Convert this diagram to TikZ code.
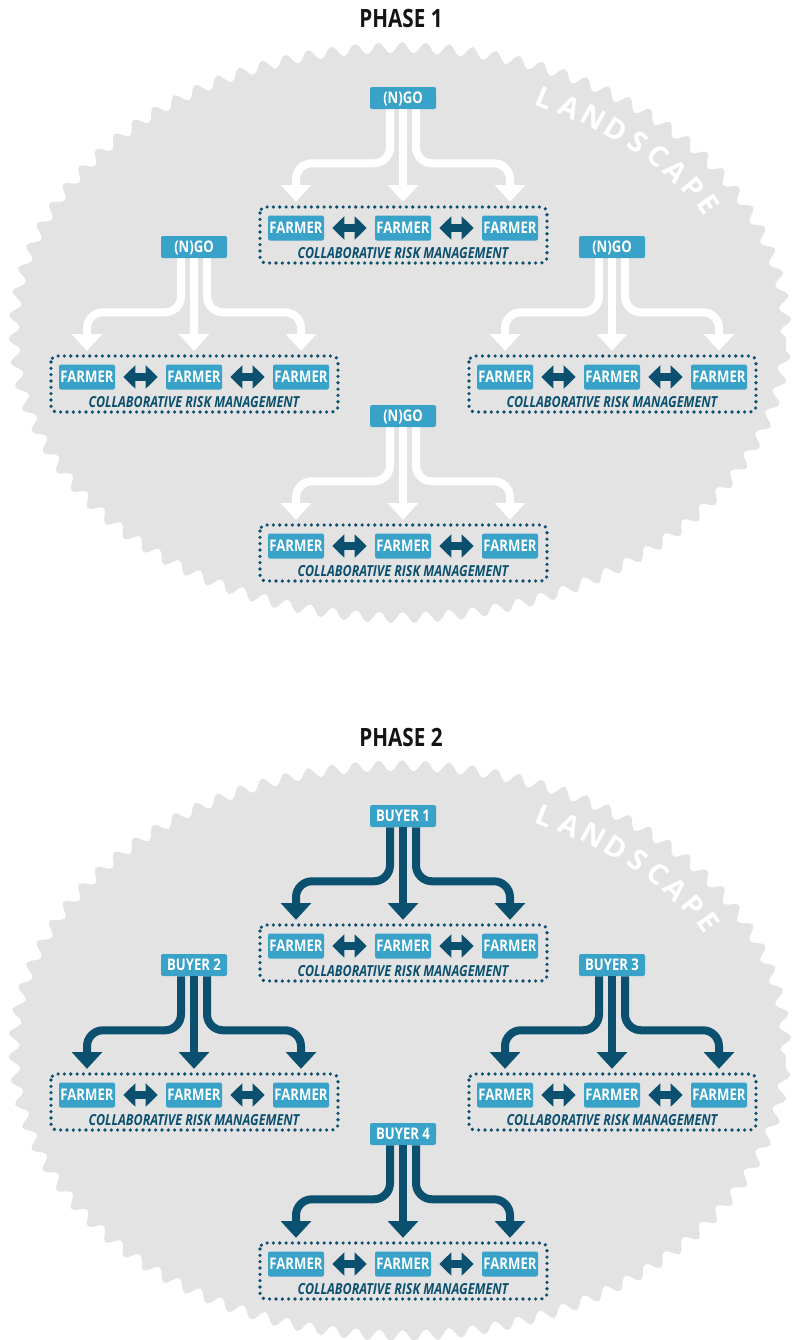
\documentclass[tikz,border=0pt]{standalone}
\usepackage{fontspec}
\newfontfamily\condfont{Open Sans}[FakeStretch=0.82]
\newfontfamily\plainfont{Open Sans}
\usetikzlibrary{arrows.meta,decorations.pathmorphing}

\definecolor{landgray}{HTML}{E3E3E3}
\definecolor{boxblue}{HTML}{38A2C9}
\definecolor{deepteal}{HTML}{0B506E}

\tikzset{
  x=0.75pt, y=-0.75pt,
  tag/.style={fill=boxblue, rounded corners=1.5pt, text=white,
    font=\condfont\bfseries\fontsize{12}{12}\selectfont,
    text height=8.6pt, text depth=0pt, inner sep=0pt},
  srcbox/.style={tag, minimum width=49.5pt, minimum height=16.5pt},
  farmbox/.style={tag, minimum width=42pt, minimum height=18.75pt},
  crmtext/.style={text=deepteal, inner sep=0pt, text height=8pt, text depth=0pt,
    font=\condfont\bfseries\itshape\fontsize{11.4}{11.4}\selectfont},
  title/.style={text=black!92, inner sep=0pt,
    font=\condfont\bfseries\fontsize{18.9}{18.9}\selectfont},
  landtext/.style={text=white, inner sep=0pt,
    font=\plainfont\bfseries\fontsize{21.5}{21.5}\selectfont},
  dotframe/.style={draw=deepteal, line width=2.7pt, line cap=round,
    dash pattern=on 0pt off 4.75pt, rounded corners=4.5pt},
  pairlink/.style={draw=deepteal, line width=6pt,
    {Triangle[width=17pt,length=9pt]}-{Triangle[width=17pt,length=9pt]}},
  flow/.style={line width=6pt, rounded corners=12pt,
    -{Triangle[width=23pt,length=12.5pt,line width=0pt]}},
  ngoflow/.style={flow, draw=white},
  buyflow/.style={flow, draw=deepteal},
  land/.style={fill=landgray, decorate,
    decoration={snake, segment length=17.55pt, amplitude=4.2pt}},
}

% one source feeding a collaborative group of three farmers
% #1 name prefix, #2 x, #3 y of the source, #4 source label, #5 flow style
\newcommand{\crmgroup}[5]{%
  \node[srcbox] (#1src) at (#2,#3) {#4};
  \node[farmbox] (#1fa) at (#2-107,#3+130) {FARMER};
  \node[farmbox] (#1fb) at (#2,#3+130) {FARMER};
  \node[farmbox] (#1fc) at (#2+107,#3+130) {FARMER};
  \node[crmtext] (#1crm) at (#2,#3+155) {COLLABORATIVE RISK MANAGEMENT};
  \draw[dotframe] ([xshift=-27pt,yshift=15.75pt]#1fa.center) rectangle
                  ([xshift=27.75pt,yshift=-26.25pt]#1fc.center);
  \draw[pairlink] ([xshift=6pt]#1fa.east) -- ([xshift=-6pt]#1fb.west);
  \draw[pairlink] ([xshift=6pt]#1fb.east) -- ([xshift=-6pt]#1fc.west);
  \draw[#5] ([xshift=-9.75pt]#1src.south) -- ++(0,54) -| ([yshift=10.1pt]#1fa.north);
  \draw[#5] (#1src.south) -- ([yshift=10.1pt]#1fb.north);
  \draw[#5] ([xshift=9.75pt]#1src.south) -- ++(0,54) -| ([yshift=10.1pt]#1fc.north);
}

% curved LANDSCAPE lettering, #1 prefix, #2 y of the landscape centre
\newcommand{\landword}[2]{%
  \foreach \ch [count=\i] in {L,A,N,D,S,C,A,P,E} {
    \pgfmathsetmacro\t{66.2-4.45*(\i-1)}
    \pgfmathsetmacro\rot{atan2(-262*cos(\t),360*sin(\t))-4}
    \node[landtext, rotate=\rot] (#1\i) at ({400+358*cos(\t)},{#2-262*sin(\t)}) {\ch};
  }%
}

\begin{document}
\begin{tikzpicture}
  \useasboundingbox (0,0) rectangle (792,1340);
  \begin{scope}
    \clip (0,0) rectangle (792,1340);
    \path[land] (400,338.5) ellipse [x radius=289.5pt, y radius=213.75pt];
    \path[land] (400,1056.5) ellipse [x radius=289.5pt, y radius=213.75pt];
  \end{scope}

  \landword{landA}{338}
  \landword{landB}{1056}

  % phase 1
  \node[title] (phase1) at (401,18) {PHASE 1};
  \crmgroup{a}{403}{98}{(N)GO}{ngoflow}
  \crmgroup{b}{194}{247}{(N)GO}{ngoflow}
  \crmgroup{c}{612}{247}{(N)GO}{ngoflow}
  \crmgroup{d}{403}{416}{(N)GO}{ngoflow}

  % phase 2
  \node[title] (phase2) at (401,737) {PHASE 2};
  \crmgroup{e}{403}{816}{BUYER 1}{buyflow}
  \crmgroup{f}{194}{965}{BUYER 2}{buyflow}
  \crmgroup{g}{612}{965}{BUYER 3}{buyflow}
  \crmgroup{h}{403}{1134}{BUYER 4}{buyflow}
\end{tikzpicture}
\end{document}
